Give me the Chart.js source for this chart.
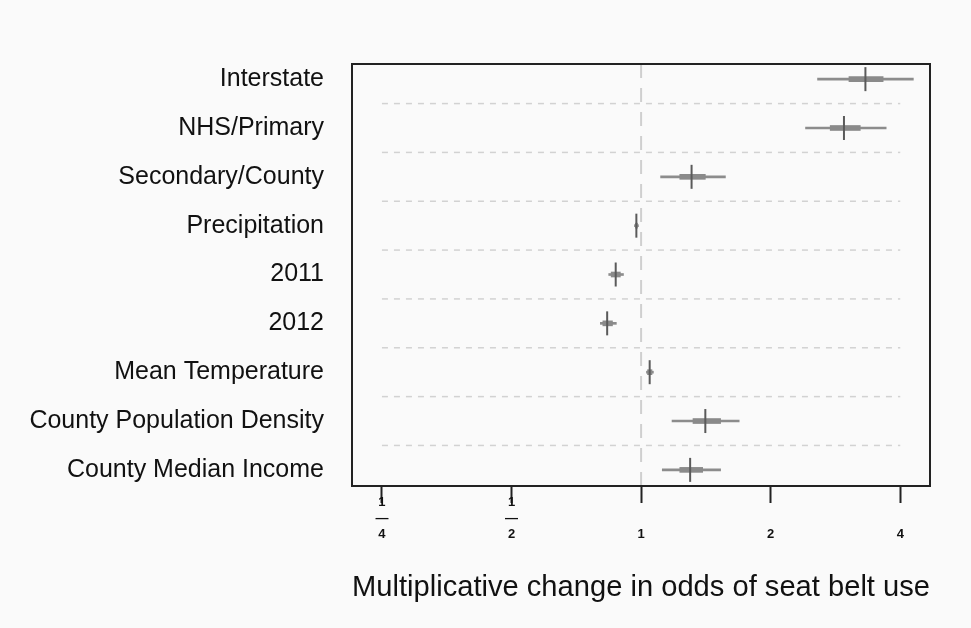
<!DOCTYPE html>
<html>
<head>
<meta charset="utf-8">
<script src="https://cdn.jsdelivr.net/npm/chart.js@4.4.1/dist/chart.umd.min.js"></script>
<style>
  html, body { margin: 0; padding: 0; background: #fafafa; }
  canvas { display: block; }
</style>
</head>
<body>
<canvas id="myChart" width="971" height="628"></canvas>
<script>
// seat belt use model: odds ratios with inner / outer intervals

const categories = ['Interstate', 'NHS/Primary', 'Secondary/County', 'Precipitation', '2011', '2012',
    'Mean Temperature', 'County Population Density', 'County Median Income'];
const estimate = [3.32, 2.96, 1.31, 0.975, 0.873, 0.834, 1.047, 1.41, 1.30];
const outerLow = [2.57, 2.41, 1.11, 0.965, 0.841, 0.804, 1.029, 1.18, 1.12];
const outerHigh = [4.29, 3.71, 1.57, 0.986, 0.910, 0.876, 1.068, 1.69, 1.53];
const innerLow = [3.04, 2.75, 1.23, 0.970, 0.852, 0.815, 1.035, 1.32, 1.23];
const innerHigh = [3.65, 3.23, 1.41, 0.981, 0.895, 0.858, 1.060, 1.53, 1.39];

const xTicks = [0.25, 0.5, 1, 2, 4];
const xTickLabels = [['1', '\u2014', '4'], ['1', '\u2014', '2'], ['', '', '1'], ['', '', '2'], ['', '', '4']];
const refValue = 1;

const rows = categories.map((c, i) => i + 1);

// dashed separators between rows, from 1/4 to 4
const separators = rows.slice(0, -1).map(r => ({
    type: 'line',
    data: [{ x: xTicks[0], y: r + 0.5 }, { x: xTicks[xTicks.length - 1], y: r + 0.5 }],
    borderColor: '#d2d2d2',
    borderWidth: 1.5,
    borderDash: [6, 6],
    pointRadius: 0,
    order: 5
}));

const boxPlugin = {
    id: 'box',
    afterDatasetsDraw(chart) {
        const a = chart.chartArea;
        const ctx = chart.ctx;
        ctx.save();
        ctx.strokeStyle = '#222';
        ctx.lineWidth = 2;
        ctx.strokeRect(a.left, a.top, a.right - a.left, a.bottom - a.top);
        ctx.restore();
    }
};

const ctx = document.getElementById('myChart');
const myChart = new Chart(ctx, {
    type: 'scatter',
    data: {
        datasets: [
            {
                type: 'scatter',
                data: rows.map((r, i) => ({ x: estimate[i], y: r })),
                pointStyle: 'line',
                rotation: 90,
                pointRadius: 12,
                pointBorderWidth: 2,
                borderColor: '#5a5a5a',
                order: 0
            },
            {
                type: 'bar',
                indexAxis: 'y',
                grouped: false,
                data: rows.map((r, i) => ({ x: [innerLow[i], innerHigh[i]], y: r })),
                backgroundColor: '#8a8a8a',
                barThickness: 5,
                borderWidth: 0,
                order: 1
            },
            {
                type: 'bar',
                indexAxis: 'y',
                grouped: false,
                data: rows.map((r, i) => ({ x: [outerLow[i], outerHigh[i]], y: r })),
                backgroundColor: '#8c8c8c',
                barThickness: 2,
                borderWidth: 0,
                order: 2
            },
            {
                type: 'line',
                data: [{ x: refValue, y: 0.69 }, { x: refValue, y: 9.33 }],
                borderColor: '#cfcfcf',
                borderWidth: 2,
                borderDash: [14, 10],
                pointRadius: 0,
                order: 4
            },
            ...separators
        ]
    },
    options: {
        responsive: false,
        animation: false,
        layout: { padding: { top: 64, right: 41, left: 0, bottom: 0 } },
        plugins: {
            legend: { display: false },
            tooltip: { enabled: false }
        },
        scales: {
            x: {
                type: 'logarithmic',
                min: 0.213,
                max: 4.69,
                offset: false,
                beginAtZero: false,
                afterBuildTicks: (scale) => {
                    scale.ticks = xTicks.map(v => ({ value: v }));
                },
                afterFit: (scale) => { scale.height = 142; },
                border: { display: false },
                grid: {
                    offset: false,
                    drawOnChartArea: false,
                    drawTicks: true,
                    tickLength: 17,
                    tickWidth: 2,
                    tickColor: '#222'
                },
                ticks: {
                    autoSkip: false,
                    maxRotation: 0,
                    padding: -9,
                    color: '#111',
                    font: { family: 'Liberation Sans', size: 13, weight: 'bold', lineHeight: 16.25 / 13 },
                    callback: (v, i) => xTickLabels[i]
                },
                title: {
                    display: true,
                    text: 'Multiplicative change in odds of seat belt use',
                    color: '#111',
                    font: { family: 'Liberation Sans', size: 30 },
                    padding: { top: 0, bottom: 22 }
                }
            },
            y: {
                type: 'linear',
                reverse: true,
                min: 0.69,
                max: 9.33,
                offset: false,
                afterBuildTicks: (scale) => {
                    scale.ticks = rows.map(v => ({ value: v }));
                },
                afterFit: (scale) => { scale.width = 352; },
                border: { display: false },
                grid: { display: false, drawTicks: false, offset: false },
                ticks: {
                    autoSkip: false,
                    padding: 28,
                    color: '#111',
                    font: { family: 'Liberation Sans', size: 25 },
                    callback: (v) => categories[v - 1]
                }
            }
        }
    },
    plugins: [boxPlugin]
});
</script>
</body>
</html>
